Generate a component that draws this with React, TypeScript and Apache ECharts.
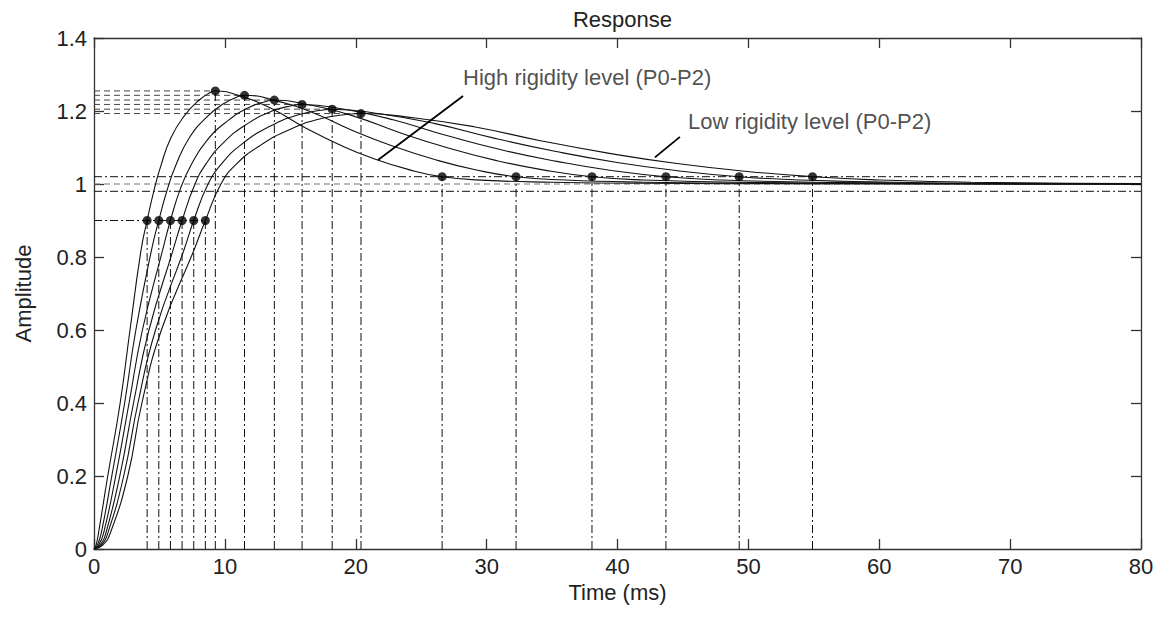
import React, { useEffect, useRef } from "react";
import * as echarts from "echarts";

// Step responses of the six rigidity levels, [time (ms), amplitude]
const curve1 = [[0,0],[0.15,0.01],[0.34,0.043],[1.05,0.2],[2.0,0.4],[2.75,0.6],[3.6,0.82],[4.06,0.9],[4.58,0.982],[5.10,1.049],[5.88,1.127],[6.93,1.188],[7.97,1.228],[8.85,1.250],[9.27,1.255],[11.35,1.239],[13.60,1.206],[16.20,1.153],[18.80,1.107],[21.40,1.069],[24.00,1.040],[26.6,1.02],[30,1.010],[35,1.005],[42,1.002],[55,1.0005],[80,1.0]];
const curve2 = [[0,0],[0.25,0.01],[0.55,0.043],[1.36,0.2],[2.34,0.4],[3.2,0.6],[4.4,0.82],[4.95,0.9],[5.61,0.986],[6.26,1.052],[7.24,1.124],[8.55,1.181],[9.86,1.219],[10.98,1.239],[11.5,1.243],[13.99,1.227],[16.69,1.196],[19.80,1.146],[22.91,1.103],[26.03,1.067],[29.14,1.039],[32.25,1.02],[36,1.011],[42,1.005],[50,1.002],[62,1.0005],[80,1.0]];
const curve3 = [[0,0],[0.35,0.01],[0.73,0.043],[1.66,0.2],[2.68,0.4],[3.7,0.6],[5.25,0.82],[5.84,0.9],[6.63,0.990],[7.43,1.053],[8.62,1.119],[10.21,1.173],[11.80,1.209],[13.14,1.226],[13.78,1.230],[16.69,1.215],[19.85,1.186],[23.49,1.139],[27.13,1.098],[30.77,1.064],[34.41,1.038],[38.05,1.02],[42,1.011],[49,1.005],[57,1.002],[68,1.0005],[80,1.0]];
const curve4 = [[0,0],[0.45,0.01],[0.9,0.043],[1.97,0.2],[3.02,0.4],[4.2,0.6],[6.05,0.82],[6.73,0.9],[7.65,0.994],[8.56,1.055],[9.94,1.115],[11.77,1.166],[13.61,1.200],[15.17,1.215],[15.9,1.218],[19.24,1.204],[22.85,1.176],[27.02,1.132],[31.19,1.093],[35.36,1.062],[39.53,1.037],[43.7,1.02],[48,1.011],[55,1.005],[63,1.002],[74,1.0005],[80,1.0002]];
const curve5 = [[0,0],[0.55,0.01],[1.05,0.043],[2.27,0.2],[3.36,0.4],[4.7,0.6],[6.88,0.82],[7.62,0.9],[8.68,0.997],[9.74,1.055],[11.32,1.110],[13.44,1.158],[15.56,1.189],[17.35,1.202],[18.2,1.205],[21.93,1.192],[25.98,1.166],[30.64,1.125],[35.31,1.089],[39.97,1.059],[44.64,1.036],[49.3,1.02],[54,1.011],[61,1.005],[69,1.002],[80,1.0007]];
const curve6 = [[0,0],[0.65,0.01],[1.24,0.043],[2.58,0.2],[3.66,0.4],[5.15,0.6],[7.65,0.82],[8.51,0.9],[9.70,1.000],[10.89,1.055],[12.67,1.105],[15.05,1.151],[17.43,1.180],[19.45,1.191],[20.4,1.193],[24.54,1.181],[29.03,1.157],[34.20,1.118],[39.38,1.084],[44.55,1.056],[49.73,1.035],[54.9,1.02],[60,1.011],[67,1.005],[74,1.002],[80,1.001]];

// Characteristic points of each response
const riseLevel = 0.9;
const riseTimes = [4.06, 4.95, 5.84, 6.73, 7.62, 8.51];
const peakTimes = [9.27, 11.5, 13.78, 15.9, 18.2, 20.4];
const peakValues = [1.255, 1.243, 1.23, 1.218, 1.205, 1.193];
const settleLevel = 1.02;
const settleTimes = [26.6, 32.25, 38.05, 43.7, 49.3, 54.9];
const bandLevels = [0.98, 1.02];
const finalValue = 1.0;

const xMin = 0, xMax = 80, xStep = 10;
const yMin = 0, yMax = 1.4, yStep = 0.2;

const FONT = "'Liberation Sans', Arial, Helvetica, sans-serif";
const INK = "#111";
const DASH_DOT = [8, 3, 2, 3];
const DASH = [6, 4];

function segment(points: number[][], color: string, width: number, type: any, z = 1) {
  return {
    type: "line",
    data: points,
    symbol: "none",
    silent: true,
    animation: false,
    z,
    lineStyle: { color, width, type },
  };
}

export default function App() {
  const ref = useRef<HTMLDivElement>(null);

  useEffect(() => {
    if (!ref.current) return;
    const chart = echarts.init(ref.current, undefined, { renderer: "svg" });

    const curves = [curve1, curve2, curve3, curve4, curve5, curve6];
    const series: any[] = [];

    // settling band and final value
    bandLevels.forEach((lv) => series.push(segment([[xMin, lv], [xMax, lv]], INK, 1, DASH_DOT)));
    series.push(segment([[xMin, finalValue], [xMax, finalValue]], "#777", 1, DASH));

    // 90 % level
    series.push(segment([[xMin, riseLevel], [riseTimes[riseTimes.length - 1], riseLevel]], INK, 1, DASH_DOT));

    // peak levels
    peakTimes.forEach((t, i) =>
      series.push(segment([[xMin, peakValues[i]], [t, peakValues[i]]], "#444", 1, DASH))
    );

    // drop lines from every marked point to the time axis
    riseTimes.forEach((t) => series.push(segment([[t, 0], [t, riseLevel]], INK, 1, DASH_DOT)));
    peakTimes.forEach((t, i) => series.push(segment([[t, 0], [t, peakValues[i]]], INK, 1, DASH_DOT)));
    settleTimes.forEach((t) => series.push(segment([[t, 0], [t, settleLevel]], INK, 1, DASH_DOT)));

    // responses
    curves.forEach((c) =>
      series.push({
        type: "line",
        data: c,
        symbol: "none",
        smooth: 0.5,
        silent: true,
        z: 3,
        lineStyle: { color: INK, width: 1.1 },
      })
    );

    // marked points
    const dots: number[][] = [];
    riseTimes.forEach((t) => dots.push([t, riseLevel]));
    peakTimes.forEach((t, i) => dots.push([t, peakValues[i]]));
    settleTimes.forEach((t) => dots.push([t, settleLevel]));
    series.push({
      type: "scatter",
      data: dots,
      symbol: "circle",
      symbolSize: 9,
      z: 5,
      silent: true,
      itemStyle: { color: "#000" },
    });

    // annotation leaders
    series.push(segment([[28.2, 1.241], [21.7, 1.066]], "#000", 1.8, "solid", 6));
    series.push(segment([[44.77, 1.129], [42.86, 1.073]], "#000", 1.8, "solid", 6));

    // annotation texts
    series.push({
      type: "scatter",
      symbolSize: 0,
      silent: true,
      z: 6,
      data: [
        { name: "High rigidity level (P0-P2)", value: [28.2, 1.293] },
        { name: "Low rigidity level (P0-P2)", value: [45.38, 1.17] },
      ],
      label: {
        show: true,
        position: "right",
        distance: 0,
        formatter: "{b}",
        fontSize: 22,
        fontFamily: FONT,
        color: "#222",
      },
    });

    const axisLine = { show: true, onZero: false, lineStyle: { color: "#333", width: 1.3 } };
    const tick = { show: true, inside: true, length: 10, lineStyle: { color: "#333", width: 1.3 } };
    const labelStyle = { fontSize: 22, fontFamily: FONT, color: "#222" };

    chart.setOption({
      animation: false,
      backgroundColor: "#fff",
      title: {
        text: "Response",
        left: 617.5,
        top: 3,
        textAlign: "center",
        textStyle: { fontSize: 22, fontWeight: "normal", fontFamily: FONT, color: "#222" },
      },
      grid: { left: 94, right: 29, top: 38, bottom: 69, containLabel: false },
      xAxis: [
        {
          type: "value",
          position: "bottom",
          min: xMin,
          max: xMax,
          interval: xStep,
          axisLine,
          axisTick: tick,
          splitLine: { show: false },
          axisLabel: { ...labelStyle, margin: 6 },
          name: "Time (ms)",
          nameLocation: "middle",
          nameGap: 32,
          nameTextStyle: labelStyle,
        },
        {
          type: "value",
          position: "top",
          min: xMin,
          max: xMax,
          interval: xStep,
          axisLine,
          axisTick: tick,
          splitLine: { show: false },
          axisLabel: { show: false },
        },
      ],
      yAxis: [
        {
          type: "value",
          position: "left",
          min: yMin,
          max: yMax,
          interval: yStep,
          axisLine,
          axisTick: tick,
          splitLine: { show: false },
          axisLabel: { ...labelStyle, margin: 7 },
          name: "Amplitude",
          nameLocation: "middle",
          nameGap: 60,
          nameTextStyle: labelStyle,
        },
        {
          type: "value",
          position: "right",
          min: yMin,
          max: yMax,
          interval: yStep,
          axisLine,
          axisTick: tick,
          splitLine: { show: false },
          axisLabel: { show: false },
        },
      ],
      series,
    });

    return () => chart.dispose();
  }, []);

  return (
    <div
      ref={ref}
      style={{ position: "fixed", left: 0, top: 0, width: 1170, height: 618, background: "#fff" }}
    />
  );
}
